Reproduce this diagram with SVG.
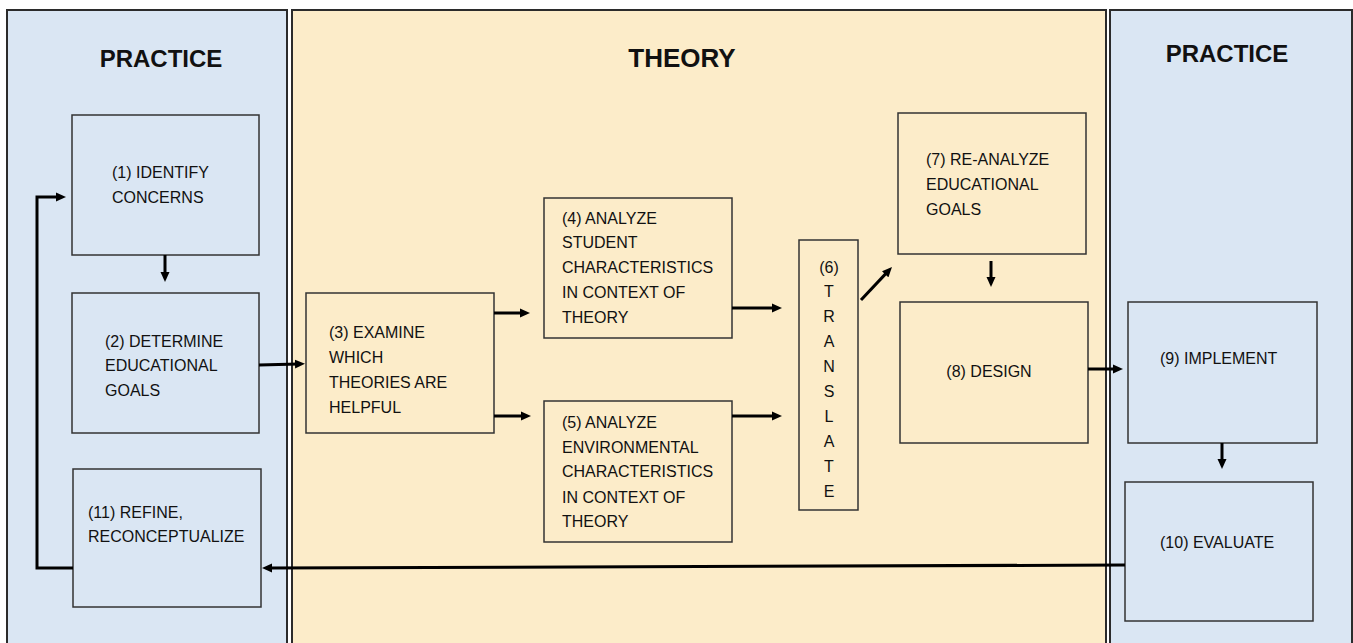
<svg xmlns="http://www.w3.org/2000/svg" width="1353" height="643" viewBox="0 0 1353 643">
<style>
.bg{fill:#ffffff}
.pb{fill:#dae6f3;stroke:#2b2b2b;stroke-width:2}
.pt{fill:#fcecc9;stroke:#2b2b2b;stroke-width:2}
.nb{fill:#dae6f3;stroke:#333;stroke-width:1.5}
.nt{fill:#fcecc9;stroke:#333;stroke-width:1.5}
.title{font-family:"Liberation Sans",Arial,sans-serif;font-weight:bold;font-size:24px;fill:#111;text-anchor:middle}
.t{font-family:"Liberation Sans",Arial,sans-serif;font-size:16px;fill:#111}
.tc{font-family:"Liberation Sans",Arial,sans-serif;font-size:16px;fill:#111;text-anchor:middle}
.c{fill:none;stroke:#000;stroke-width:3}
</style>
<defs>
<marker id="ah" markerUnits="userSpaceOnUse" viewBox="0 0 10 10" markerWidth="10" markerHeight="10" refX="3" refY="5" orient="auto">
<path d="M0,0.5 L10,5 L0,9.5 z" fill="#000"/>
</marker>
</defs>
<rect class="bg" x="0" y="0" width="1353" height="643"/>
<g id="panels">
<rect class="pb" x="7" y="10" width="280" height="640"/>
<rect class="pt" x="292" y="10" width="814" height="640"/>
<rect class="pb" x="1110" y="10" width="242" height="640"/>
<text class="title" x="161" y="67">PRACTICE</text>
<text class="title" x="682" y="67" style="font-size:26px">THEORY</text>
<text class="title" x="1227" y="62">PRACTICE</text>
</g>
<g id="n1">
<rect class="nb" x="72" y="115" width="187" height="140"/>
<text class="t" x="112" y="178">(1) IDENTIFY</text>
<text class="t" x="112" y="203">CONCERNS</text>
</g>
<g id="n2">
<rect class="nb" x="72" y="293" width="187" height="140"/>
<text class="t" x="105" y="347">(2) DETERMINE</text>
<text class="t" x="105" y="371">EDUCATIONAL</text>
<text class="t" x="105" y="396">GOALS</text>
</g>
<g id="n11">
<rect class="nb" x="73" y="469" width="188" height="138"/>
<text class="t" x="88" y="518">(11) REFINE,</text>
<text class="t" x="88" y="542">RECONCEPTUALIZE</text>
</g>
<g id="n3">
<rect class="nt" x="306" y="293" width="188" height="140"/>
<text class="t" x="329" y="338">(3) EXAMINE</text>
<text class="t" x="329" y="363">WHICH</text>
<text class="t" x="329" y="388">THEORIES ARE</text>
<text class="t" x="329" y="413">HELPFUL</text>
</g>
<g id="n4">
<rect class="nt" x="544" y="198" width="188" height="140"/>
<text class="t" x="562" y="224">(4) ANALYZE</text>
<text class="t" x="562" y="248">STUDENT</text>
<text class="t" x="562" y="273">CHARACTERISTICS</text>
<text class="t" x="562" y="298">IN CONTEXT OF</text>
<text class="t" x="562" y="323">THEORY</text>
</g>
<g id="n5">
<rect class="nt" x="544" y="401" width="188" height="141"/>
<text class="t" x="562" y="428">(5) ANALYZE</text>
<text class="t" x="562" y="453">ENVIRONMENTAL</text>
<text class="t" x="562" y="477">CHARACTERISTICS</text>
<text class="t" x="562" y="503">IN CONTEXT OF</text>
<text class="t" x="562" y="527">THEORY</text>
</g>
<g id="n6">
<rect class="nt" x="799" y="240" width="59" height="270"/>
<text class="tc" x="829" y="273">(6)</text>
<text class="tc" x="829" y="297">T</text>
<text class="tc" x="829" y="322">R</text>
<text class="tc" x="829" y="347">A</text>
<text class="tc" x="829" y="372">N</text>
<text class="tc" x="829" y="397">S</text>
<text class="tc" x="829" y="422">L</text>
<text class="tc" x="829" y="447">A</text>
<text class="tc" x="829" y="472">T</text>
<text class="tc" x="829" y="497">E</text>
</g>
<g id="n7">
<rect class="nt" x="898" y="113" width="188" height="141"/>
<text class="t" x="926" y="165">(7) RE-ANALYZE</text>
<text class="t" x="926" y="190">EDUCATIONAL</text>
<text class="t" x="926" y="215">GOALS</text>
</g>
<g id="n8">
<rect class="nt" x="900" y="302" width="188" height="141"/>
<text class="tc" x="989" y="377">(8) DESIGN</text>
</g>
<g id="n9">
<rect class="nb" x="1128" y="302" width="189" height="141"/>
<text class="t" x="1160" y="364">(9) IMPLEMENT</text>
</g>
<g id="n10">
<rect class="nb" x="1125" y="482" width="188" height="139"/>
<text class="t" x="1160" y="548">(10) EVALUATE</text>
</g>
<g id="connectors">
<path class="c" marker-end="url(#ah)" d="M165,255 V275"/>
<path class="c" marker-end="url(#ah)" d="M259,365 L298,364"/>
<path class="c" marker-end="url(#ah)" d="M494,313 H523"/>
<path class="c" marker-end="url(#ah)" d="M494,416 H524"/>
<path class="c" marker-end="url(#ah)" d="M732,308 H775"/>
<path class="c" marker-end="url(#ah)" d="M732,416 H775"/>
<path class="c" marker-end="url(#ah)" d="M861,300 L887.2,272.1"/>
<path class="c" marker-end="url(#ah)" d="M991,261 V280"/>
<path class="c" marker-end="url(#ah)" d="M1088,369 H1116"/>
<path class="c" marker-end="url(#ah)" d="M1222,443 V462"/>
<path class="c" marker-end="url(#ah)" d="M1125,565 L269,568"/>
<path class="c" marker-end="url(#ah)" d="M73,568 H37 V197 H59"/>
</g>
</svg>
